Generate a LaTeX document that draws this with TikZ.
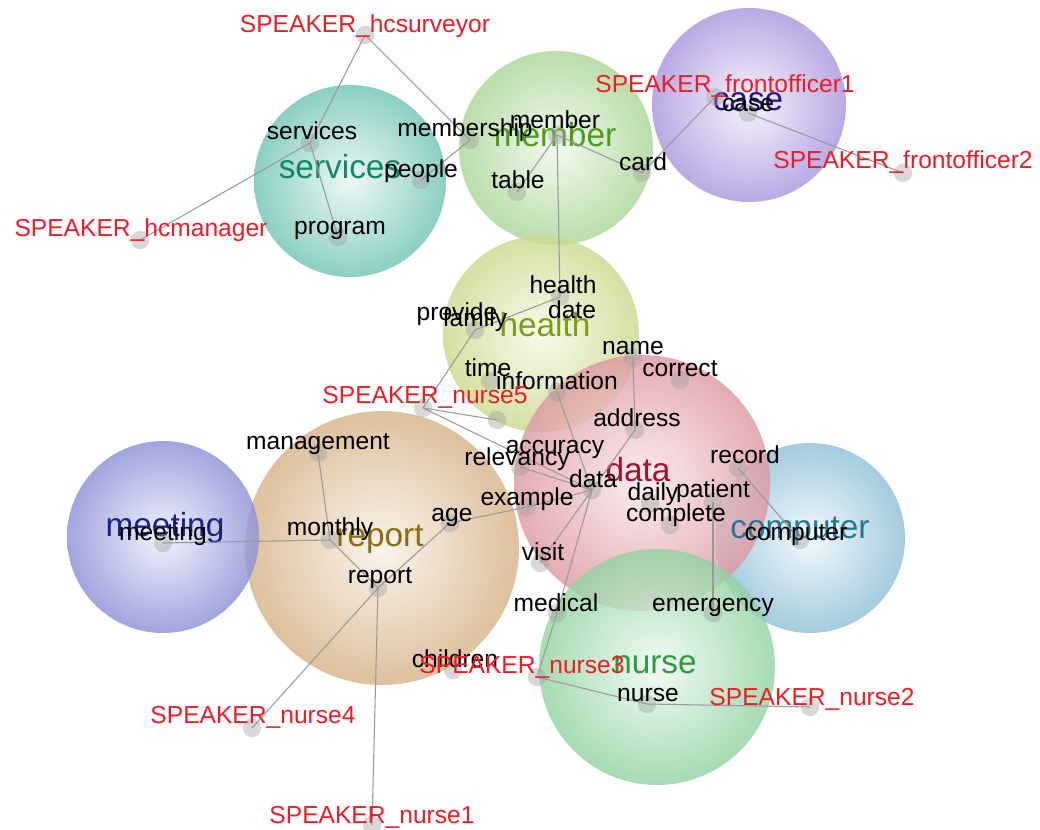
\documentclass[tikz,border=0pt]{standalone}
\usepackage{fontspec}
\setmainfont{Liberation Sans}
\usetikzlibrary{shapes,arrows,fit,positioning}
\usepackage{xcolor}

% kolory skupien
\definecolor{servrim}{HTML}{6EC4B4}\definecolor{servin}{HTML}{E8F6F2}\definecolor{servtxt}{HTML}{13866A}
\definecolor{membrim}{HTML}{A9D595}\definecolor{membin}{HTML}{F0F8EA}\definecolor{membtxt}{HTML}{4F9A1E}
\definecolor{caserim}{HTML}{A995DD}\definecolor{casein}{HTML}{F3F0FB}\definecolor{casetxt}{HTML}{2A1580}
\definecolor{heltrim}{HTML}{C9D98A}\definecolor{heltin}{HTML}{F7F9E8}\definecolor{helttxt}{HTML}{7F9A16}
\definecolor{datarim}{HTML}{DE97A0}\definecolor{datain}{HTML}{F9E9EB}\definecolor{datatxt}{HTML}{A3122E}
\definecolor{reptrim}{HTML}{D6B185}\definecolor{reptin}{HTML}{F8F1E6}\definecolor{repttxt}{HTML}{8B6A14}
\definecolor{meetrim}{HTML}{8A8FD6}\definecolor{meetin}{HTML}{EEEFFB}\definecolor{meettxt}{HTML}{1A1F8A}
\definecolor{comprim}{HTML}{8DBFD6}\definecolor{compin}{HTML}{EFF7FB}\definecolor{comptxt}{HTML}{2B7393}
\definecolor{nursrim}{HTML}{8FD3A0}\definecolor{nursin}{HTML}{EFF9F1}\definecolor{nurstxt}{HTML}{2E9A45}
\definecolor{spkred}{HTML}{EE1C25}

\begin{document}
\begin{tikzpicture}[x=0.02cm, y=-0.02cm,
    cluster/.style={shading=radial, opacity=0.8},
    dot/.style={circle, fill=gray!75, opacity=0.4, minimum size=0.37cm, inner sep=0pt},
    link/.style={draw=gray!80, line width=0.6pt},
    word/.style={inner sep=0pt, yshift=-0.08cm, text height=0.72em, text depth=0.21em, font=\fontsize{14}{16}\selectfont},
    speaker/.style={word, text=spkred},
    topic/.style={inner sep=0pt, yshift=-0.08cm, text height=0.72em, text depth=0.21em, font=\fontsize{19}{22}\selectfont}]

    % tlo i granice rysunku
    \fill[white] (0,0) rectangle (1040,830);
    \useasboundingbox (0,0) rectangle (1040,830);

    % Kule skupien
    \shade[cluster, inner color=servin, outer color=servrim] (350,181) circle[radius=96];
    \shade[cluster, inner color=membin, outer color=membrim] (556,148) circle[radius=97];
    \shade[cluster, inner color=casein, outer color=caserim] (749,105) circle[radius=97];
    \shade[cluster, inner color=heltin, outer color=heltrim] (541,334) circle[radius=98];
    \shade[cluster, inner color=reptin, outer color=reptrim] (382,548) circle[radius=137];
    \shade[cluster, inner color=meetin, outer color=meetrim] (163,537) circle[radius=96];
    \shade[cluster, inner color=compin, outer color=comprim] (810,538) circle[radius=95];
    \shade[cluster, inner color=datain, outer color=datarim] (642,483) circle[radius=128];
    \shade[cluster, inner color=nursin, outer color=nursrim] (657,667) circle[radius=118];

    % Nazwy skupien
    \node[topic, text=servtxt] (c-services) at (340,170) {services};
    \node[topic, text=membtxt] (c-member) at (555,138) {member};
    \node[topic, text=casetxt] (c-case) at (748,102) {case};
    \node[topic, text=helttxt] (c-health) at (545,328) {health};
    \node[topic, text=datatxt] (c-data) at (638,473) {data};
    \node[topic, text=repttxt] (c-report) at (380,538) {report};
    \node[topic, text=meettxt] (c-meeting) at (165,528) {meeting};
    \node[topic, text=comptxt] (c-computer) at (800,530) {computer};
    \node[topic, text=nurstxt] (c-nurse) at (655,665) {nurse};

    % Punkty mowcow
    \node[dot] (hcsurveyor) at (365,35) {};
    \node[dot] (hcmanager) at (140,240) {};
    \node[dot] (frontofficer1) at (715,97) {};
    \node[dot] (frontofficer2) at (903,173) {};
    \node[dot] (nurse5) at (423,408) {};
    \node[dot] (nurse4) at (252,728) {};
    \node[dot] (nurse1) at (372,825) {};
    \node[dot] (nurse3) at (537,677) {};
    \node[dot] (nurse2) at (810,707) {};

    % Punkty slow
    \node[dot] (services) at (310,143) {};
    \node[dot] (membership) at (470,140) {};
    \node[dot] (people) at (421,180) {};
    \node[dot] (program) at (338,237) {};
    \node[dot] (member) at (557,135) {};
    \node[dot] (table) at (517,192) {};
    \node[dot] (card) at (642,173) {};
    \node[dot] (case) at (748,113) {};
    \node[dot] (health) at (560,297) {};
    \node[dot] (family) at (475,330) {};
    \node[dot] (time) at (490,381) {};
    \node[dot] (information) at (557,392) {};
    \node[dot] (name) at (633,358) {};
    \node[dot] (correct) at (680,380) {};
    \node[dot] (address) at (635,430) {};
    \node[dot] (accuracy) at (497,420) {};
    \node[dot] (relevancy) at (520,467) {};
    \node[dot] (data) at (592,490) {};
    \node[dot] (example) at (527,507) {};
    \node[dot] (age) at (450,523) {};
    \node[dot] (management) at (318,453) {};
    \node[dot] (monthly) at (330,540) {};
    \node[dot] (meeting) at (163,543) {};
    \node[dot] (report) at (378,588) {};
    \node[dot] (children) at (453,670) {};
    \node[dot] (record) at (738,468) {};
    \node[dot] (daily) at (650,503) {};
    \node[dot] (patient) at (713,502) {};
    \node[dot] (complete) at (670,525) {};
    \node[dot] (computer) at (800,540) {};
    \node[dot] (visit) at (540,563) {};
    \node[dot] (medical) at (557,613) {};
    \node[dot] (emergency) at (713,613) {};
    \node[dot] (nurse) at (647,704) {};

    % Polaczenia
    \draw[link] (hcsurveyor.center) -- (services.center);
    \draw[link] (hcsurveyor.center) -- (membership.center);
    \draw[link] (hcmanager.center) -- (services.center);
    \draw[link] (services.center) -- (program.center);
    \draw[link] (membership.center) -- (people.center);
    \draw[link] (member.center) -- (table.center);
    \draw[link] (member.center) -- (card.center);
    \draw[link] (member.center) -- (health.center);
    \draw[link] (card.center) -- (frontofficer1.center);
    \draw[link] (case.center) -- (frontofficer2.center);
    \draw[link] (health.center) -- (family.center);
    \draw[link] (family.center) -- (nurse5.center);
    \draw[link] (nurse5.center) -- (accuracy.center);
    \draw[link] (nurse5.center) -- (data.center);
    \draw[link] (information.center) -- (data.center);
    \draw[link] (name.center) -- (address.center);
    \draw[link] (address.center) -- (data.center);
    \draw[link] (relevancy.center) -- (data.center);
    \draw[link] (example.center) -- (data.center);
    \draw[link] (age.center) -- (example.center);
    \draw[link] (report.center) -- (age.center);
    \draw[link] (monthly.center) -- (report.center);
    \draw[link] (meeting.center) -- (monthly.center);
    \draw[link] (management.center) -- (monthly.center);
    \draw[link] (report.center) -- (nurse4.center);
    \draw[link] (report.center) -- (nurse1.center);
    \draw[link] (data.center) -- (visit.center);
    \draw[link] (data.center) -- (medical.center);
    \draw[link] (medical.center) -- (nurse3.center);
    \draw[link] (nurse3.center) -- (nurse.center);
    \draw[link] (nurse.center) -- (nurse2.center);
    \draw[link] (record.center) -- (computer.center);
    \draw[link] (patient.center) -- (emergency.center);

    % Slowa
    \node[word] (services-l) at (312,131) {services};
    \node[word] (membership-l) at (465,128) {membership};
    \node[word] (people-l) at (421,169) {people};
    \node[word] (program-l) at (340,226) {program};
    \node[word] (member-l) at (555,120) {member};
    \node[word] (table-l) at (518,180) {table};
    \node[word] (card-l) at (643,162) {card};
    \node[word] (case-l) at (748,103) {case};
    \node[word] (health-l) at (563,285) {health};
    \node[word] (date-l) at (572,310) {date};
    \node[word] (provide-l) at (457,312) {provide};
    \node[word] (family-l) at (475,318) {family};
    \node[word] (time-l) at (488,368) {time};
    \node[word] (information-l) at (557,381) {information};
    \node[word] (name-l) at (633,346) {name};
    \node[word] (correct-l) at (680,368) {correct};
    \node[word] (address-l) at (637,418) {address};
    \node[word] (accuracy-l) at (555,445) {accuracy};
    \node[word] (relevancy-l) at (517,457) {relevancy};
    \node[word] (data-l) at (593,479) {data};
    \node[word] (example-l) at (527,497) {example};
    \node[word] (age-l) at (452,513) {age};
    \node[word] (management-l) at (318,441) {management};
    \node[word] (monthly-l) at (330,527) {monthly};
    \node[word] (meeting-l) at (163,532) {meeting};
    \node[word] (report-l) at (380,575) {report};
    \node[word] (children-l) at (455,659) {children};
    \node[word] (record-l) at (745,455) {record};
    \node[word] (daily-l) at (653,492) {daily};
    \node[word] (patient-l) at (713,489) {patient};
    \node[word] (complete-l) at (676,513) {complete};
    \node[word] (computer-l) at (796,532) {computer};
    \node[word] (visit-l) at (543,552) {visit};
    \node[word] (medical-l) at (556,603) {medical};
    \node[word] (emergency-l) at (713,603) {emergency};
    \node[word] (nurse-l) at (648,693) {nurse};

    % Mowcy
    \node[speaker] (hcsurveyor-l) at (365,24) {SPEAKER\_hcsurveyor};
    \node[speaker] (hcmanager-l) at (141,228) {SPEAKER\_hcmanager};
    \node[speaker] (frontofficer1-l) at (725,84) {SPEAKER\_frontofficer1};
    \node[speaker] (frontofficer2-l) at (903,160) {SPEAKER\_frontofficer2};
    \node[speaker] (nurse5-l) at (425,395) {SPEAKER\_nurse5};
    \node[speaker] (nurse4-l) at (253,715) {SPEAKER\_nurse4};
    \node[speaker] (nurse1-l) at (372,815) {SPEAKER\_nurse1};
    \node[speaker] (nurse3-l) at (522,665) {SPEAKER\_nurse3};
    \node[speaker] (nurse2-l) at (812,697) {SPEAKER\_nurse2};

\end{tikzpicture}
\end{document}
